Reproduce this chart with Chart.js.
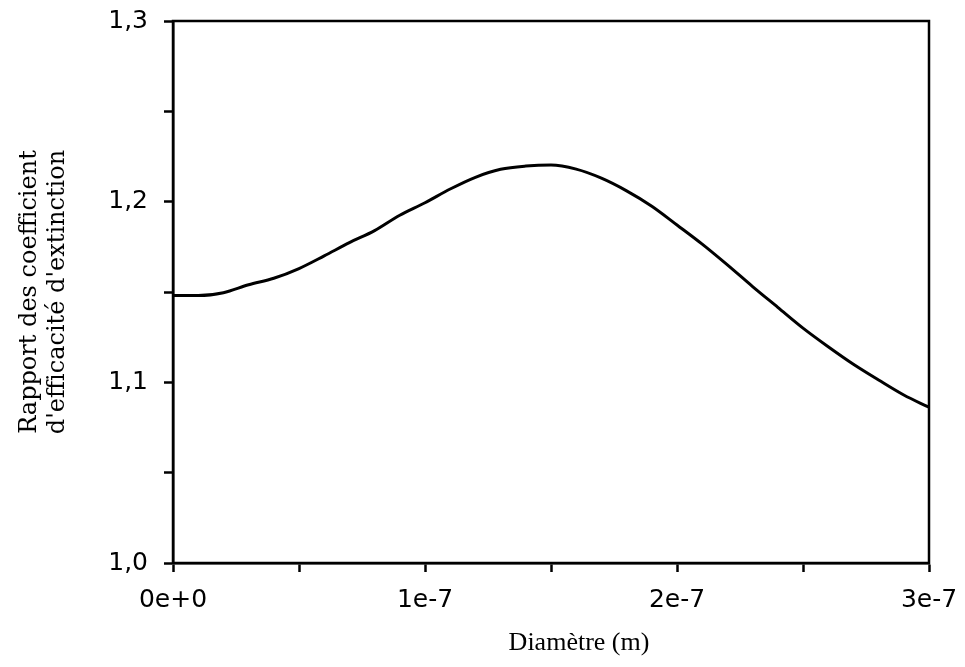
<!DOCTYPE html>
<html>
<head>
<meta charset="utf-8">
<script src="https://cdn.jsdelivr.net/npm/chart.js@4"></script>
<style>
  body { margin: 0; background: #fff; }
  #wrap { width: 965px; height: 667px; }
</style>
</head>
<body>
<div id="wrap"><canvas id="ratioChart"></canvas></div>
<script>
// diameter values (m)
var diameters = [0, 1e-8, 2e-8, 3e-8, 4e-8, 5e-8, 6e-8, 7e-8, 8e-8, 9e-8,
    1e-7, 1.1e-7, 1.2e-7, 1.3e-7, 1.4e-7, 1.5e-7, 1.6e-7, 1.7e-7, 1.8e-7, 1.9e-7,
    2e-7, 2.1e-7, 2.2e-7, 2.3e-7, 2.4e-7, 2.5e-7, 2.6e-7, 2.7e-7, 2.8e-7, 2.9e-7, 3e-7];
// ratio of extinction efficiency coefficients
var ratio = [1.148, 1.148, 1.1496, 1.154, 1.1576, 1.163, 1.170, 1.1773, 1.184, 1.1925,
    1.1994, 1.2070, 1.2135, 1.2179, 1.2197, 1.2203, 1.2180, 1.2130, 1.2060, 1.1975,
    1.1871, 1.1765, 1.165, 1.153, 1.1415, 1.1300, 1.1197, 1.1100, 1.1013, 1.093, 1.0862];
var xTickLabels = ['0e+0', '1e-7', '2e-7', '3e-7'];
var yTickLabels = ['1,0', '1,1', '1,2', '1,3'];
var xTitle = 'Diamètre (m)';
var yTitle = ['Rapport des coefficient', "d'efficacité d'extinction"];

var points = diameters.map(function (d, i) { return { x: d, y: ratio[i] }; });

// box around the plot area + x axis title (sits a bit right of centre in the original)
var frame = {
    id: 'frame',
    afterDraw: function (chart) {
        var a = chart.chartArea, c = chart.ctx;
        c.save();
        c.strokeStyle = '#000';
        c.lineWidth = 2.5;
        c.strokeRect(a.left, a.top, a.right - a.left, a.bottom - a.top);
        c.fillStyle = '#000';
        c.font = '26px "Liberation Serif"';
        c.textAlign = 'center';
        c.textBaseline = 'middle';
        c.fillText(xTitle, (a.left + a.right) / 2 + 28, a.bottom + 80);
        c.restore();
    }
};

var ctx = document.getElementById('ratioChart').getContext('2d');
new Chart(ctx, {
    type: 'line',
    data: {
        datasets: [{
            data: points,
            borderColor: '#000',
            borderWidth: 3,
            pointRadius: 0,
            cubicInterpolationMode: 'monotone',
            fill: false
        }]
    },
    options: {
        responsive: true,
        maintainAspectRatio: false,
        animation: false,
        layout: { padding: { top: 21, right: 36, left: 0, bottom: 0 } },
        plugins: { legend: { display: false }, tooltip: { enabled: false } },
        scales: {
            x: {
                type: 'linear',
                min: 0,
                max: 3e-7,
                afterFit: function (s) {
                    s.height = 104;
                    s.paddingLeft = 0;
                    s.paddingRight = 0;
                },
                border: { display: true, color: '#000', width: 2.5 },
                grid: { drawOnChartArea: false, drawTicks: true, tickLength: 9, tickWidth: 2.5, color: '#000' },
                ticks: {
                    stepSize: 5e-8,
                    maxRotation: 0,
                    padding: 13,
                    color: '#000',
                    font: { family: 'DejaVu Sans', size: 25 },
                    callback: function (v, i) { return i % 2 === 0 ? xTickLabels[i / 2] : ''; }
                }
            },
            y: {
                min: 1.0,
                max: 1.3,
                afterFit: function (s) {
                    s.width = 173;
                    s.paddingTop = 0;
                    s.paddingBottom = 0;
                },
                border: { display: true, color: '#000', width: 2.5 },
                grid: { drawOnChartArea: false, drawTicks: true, tickLength: 9, tickWidth: 2.5, color: '#000' },
                ticks: {
                    stepSize: 0.05,
                    padding: 16,
                    color: '#000',
                    font: { family: 'DejaVu Sans', size: 25 },
                    callback: function (v, i) { return i % 2 === 0 ? yTickLabels[i / 2] : ''; }
                },
                title: {
                    display: true,
                    text: yTitle,
                    color: '#000',
                    font: { family: 'DejaVu Serif', size: 24, lineHeight: 1.2 },
                    padding: { top: 15, bottom: 0 }
                }
            }
        }
    },
    plugins: [frame]
});
</script>
</body>
</html>
